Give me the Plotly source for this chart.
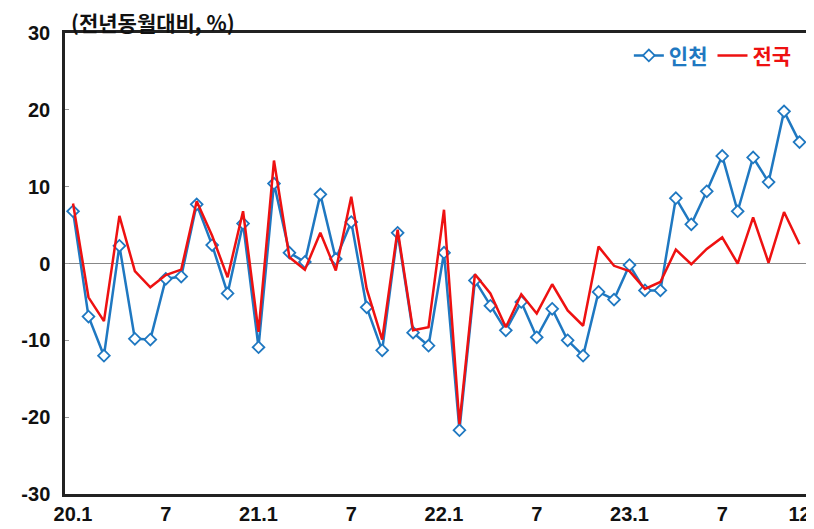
import plotly.graph_objects as go

months = [f"{y}.{m}" for y in (20, 21, 22, 23) for m in range(1, 13)]
tick_vals = ["20.1", "20.7", "21.1", "21.7", "22.1", "22.7", "23.1", "23.7", "23.12"]
tick_text = ["20.1", "7", "21.1", "7", "22.1", "7", "23.1", "7", "12"]
y_ticks = [-30, -20, -10, 0, 10, 20, 30]

incheon = [6.8, -6.9, -12.0, 2.3, -9.8, -9.9, -2.0, -1.7, 7.7, 2.4, -3.9, 5.2,
           -10.9, 10.4, 1.4, 0.2, 9.0, 0.6, 5.4, -5.7, -11.3, 4.0, -9.0, -10.7,
           1.4, -21.7, -2.2, -5.5, -8.7, -5.0, -9.6, -5.9, -10.0, -12.0, -3.7, -4.7,
           -0.2, -3.5, -3.5, 8.5, 5.1, 9.4, 14.0, 6.8, 13.8, 10.6, 19.8, 15.8]
national = [7.8, -4.4, -7.5, 6.2, -1.0, -3.1, -1.5, -0.8, 8.1, 3.6, -1.8, 6.8,
            -8.9, 13.4, 0.8, -0.8, 4.0, -0.9, 8.7, -3.3, -9.9, 4.4, -8.7, -8.3,
            7.0, -20.9, -1.4, -3.9, -8.3, -4.0, -6.5, -2.7, -6.1, -8.1, 2.2, -0.3,
            -1.0, -3.3, -2.4, 1.8, -0.1, 1.9, 3.4, 0.0, 6.0, 0.1, 6.7, 2.5]

BLUE = "#1f78c1"
RED = "#ee1111"
FONT = "Liberation Sans, Arial, Noto Sans CJK KR"
KFONT = "Noto Sans CJK KR"

fig = go.Figure()
fig.add_trace(go.Scatter(
    x=months, y=incheon, mode="lines+markers",
    name=f"<span style='color:{BLUE}'><b>인천</b></span>",
    line=dict(color=BLUE, width=2.5),
    marker=dict(symbol="diamond", size=9, color="white",
                line=dict(color=BLUE, width=1.8)),
))
fig.add_trace(go.Scatter(
    x=months, y=national, mode="lines",
    name=f"<span style='color:{RED}'><b>전국</b></span>",
    line=dict(color=RED, width=2.5),
))

# page body has an 8px default margin; size the figure so the plot lands in place
fig.update_layout(
    width=806, height=521,
    margin=dict(l=57, r=6, t=25, b=35, autoexpand=False),
    paper_bgcolor="white", plot_bgcolor="white",
    font=dict(family=FONT, size=20, color="#111111"),
    showlegend=True,
    legend=dict(orientation="h", x=0.985, y=0.995, xanchor="right", yanchor="top",
                bgcolor="rgba(0,0,0,0)", font=dict(size=21, family=KFONT),
                itemwidth=30, tracegroupgap=0),
    annotations=[dict(text="<b>(전년동월대비, %)</b>", xref="paper", yref="paper",
                      x=0.005, y=1.0, xanchor="left", yanchor="middle", yshift=11,
                      showarrow=False,
                      font=dict(size=21, family=KFONT, color="#111111"))],
)
fig.update_xaxes(
    type="category", categoryorder="array", categoryarray=months,
    range=[-0.52, 47.55],
    tickmode="array", tickvals=tick_vals, ticktext=[f"<b>{t}</b>" for t in tick_text],
    ticks="", showgrid=False, zeroline=False, automargin=False,
    showline=True, linecolor="#222222", linewidth=2.5, mirror=True,
    tickfont=dict(size=20, family=FONT),
)
fig.update_yaxes(
    range=[-30, 30], tickmode="array", tickvals=y_ticks,
    ticktext=[f"<b>{v}</b>" for v in y_ticks],
    showgrid=False, zeroline=True, zerolinecolor="#888888", zerolinewidth=1,
    showline=True, linecolor="#222222", linewidth=2.5, mirror=True, automargin=False,
    ticks="inside", ticklen=4, tickcolor="#999999",
    tickfont=dict(size=20, family=FONT), ticklabelstandoff=8,
)

fig.write_html("out.html")
